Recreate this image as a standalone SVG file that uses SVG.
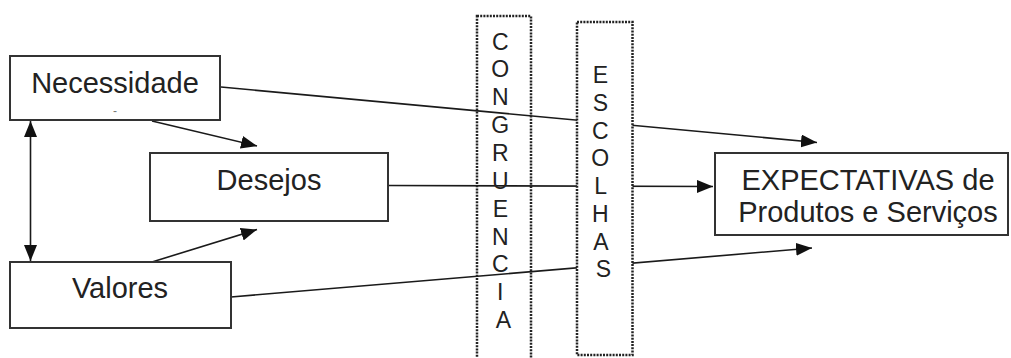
<svg xmlns="http://www.w3.org/2000/svg" width="1011" height="358" viewBox="0 0 1011 358">
  <style>
    .box { fill: #fff; stroke: #333; stroke-width: 2; }
    .lbl { font-family: "Liberation Sans", Arial, sans-serif; font-size: 29px; fill: #222; text-anchor: middle; }
    .col { font-family: "Liberation Sans", Arial, sans-serif; font-size: 23px; fill: #222; text-anchor: middle; }
    .dot { stroke: #222; stroke-width: 2.5; stroke-dasharray: 2 1.2; }
    .wire { fill: none; stroke: #1a1a1a; stroke-width: 1.6; }
  </style>
  <defs>
    <marker id="head" markerUnits="userSpaceOnUse" markerWidth="16" markerHeight="13" refX="16" refY="6.5" orient="auto-start-reverse">
      <path d="M0,0 L16,6.5 L0,13 z" fill="#111"/>
    </marker>
  </defs>

  <rect width="1011" height="358" fill="#fff"/>

  <!-- connectors -->
  <g id="connectors">
    <line class="wire" x1="30.5" y1="121" x2="30.5" y2="261" marker-start="url(#head)" marker-end="url(#head)"/>
    <line class="wire" x1="152" y1="121" x2="257" y2="146" marker-end="url(#head)"/>
    <line class="wire" x1="152" y1="262" x2="257" y2="229.5" marker-end="url(#head)"/>
    <line class="wire" x1="221" y1="87" x2="817" y2="142.5" marker-end="url(#head)"/>
    <line class="wire" x1="388" y1="185.5" x2="713" y2="186.5" marker-end="url(#head)"/>
    <line class="wire" x1="231" y1="297" x2="812" y2="248" marker-end="url(#head)"/>
  </g>

  <g id="necessidade">
    <rect class="box" x="10" y="56" width="210" height="64"/>
    <text class="lbl" x="115" y="93">Necessidade</text>
    <text x="115" y="115" font-family="Liberation Sans, Arial, sans-serif" font-size="12" fill="#777" text-anchor="middle">-</text>
  </g>

  <g id="desejos">
    <rect class="box" x="150" y="153" width="238" height="68"/>
    <text class="lbl" x="269" y="190">Desejos</text>
  </g>

  <g id="valores">
    <rect class="box" x="10" y="262" width="221" height="66"/>
    <text class="lbl" x="120" y="298">Valores</text>
  </g>

  <g id="expectativas">
    <rect class="box" x="715" y="153" width="293" height="82"/>
    <text class="lbl" x="868" y="190">EXPECTATIVAS de</text>
    <text class="lbl" x="868" y="222">Produtos e Serviços</text>
  </g>

  <g id="congruencia">
    <rect class="dot" x="477" y="16" width="54" height="350" fill="none"/>
    <text class="col">
      <tspan x="503.5" y="49.5">C</tspan>
      <tspan x="503.5" y="77.4">O</tspan>
      <tspan x="503.5" y="105.2">N</tspan>
      <tspan x="503.5" y="133.1">G</tspan>
      <tspan x="503.5" y="160.9">R</tspan>
      <tspan x="503.5" y="188.8">U</tspan>
      <tspan x="503.5" y="216.6">E</tspan>
      <tspan x="503.5" y="244.5">N</tspan>
      <tspan x="503.5" y="272.3">C</tspan>
      <tspan x="503.5" y="300.2">I</tspan>
      <tspan x="503.5" y="328">A</tspan>
    </text>
  </g>

  <g id="escolhas">
    <rect class="dot" x="577" y="22" width="55.5" height="333" fill="#fff"/>
    <text class="col">
      <tspan x="603.5" y="83.3">E</tspan>
      <tspan x="603.5" y="111">S</tspan>
      <tspan x="603.5" y="138.7">C</tspan>
      <tspan x="603.5" y="166.4">O</tspan>
      <tspan x="603.5" y="194.1">L</tspan>
      <tspan x="603.5" y="221.8">H</tspan>
      <tspan x="603.5" y="249.5">A</tspan>
      <tspan x="603.5" y="277.2">S</tspan>
    </text>
  </g>
</svg>
